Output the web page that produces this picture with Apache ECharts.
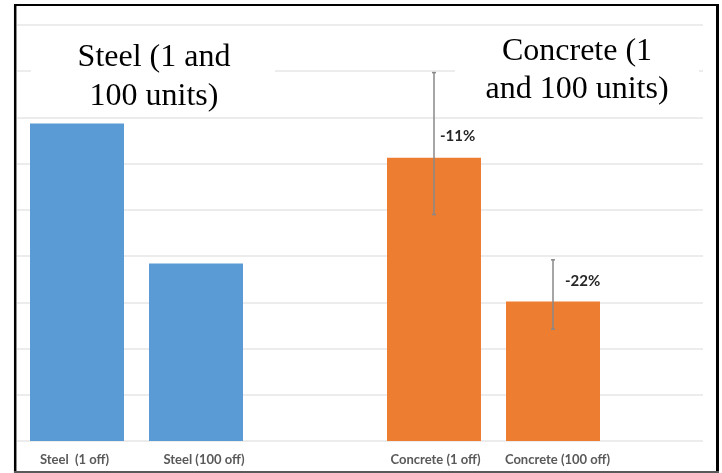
<!DOCTYPE html>
<html>
<head>
<meta charset="utf-8">
<script src="https://cdn.jsdelivr.net/npm/echarts@6/dist/echarts.min.js"></script>
<style>
  html, body { margin: 0; padding: 0; background: #ffffff; }
  #chart { width: 722px; height: 473px; }
</style>
</head>
<body>
<div id="chart"></div>
<script>
// Unit cost comparison: one-off vs 100-off builds
const categories = ['Steel  (1 off)', 'Steel (100 off)', '', 'Concrete (1 off)', 'Concrete (100 off)'];
const steelValues = [6.87, 3.84, null, null, null];
const concreteValues = [null, null, null, 6.13, 3.02];
// error range (low, high) for the concrete builds
const errorLow = [null, null, null, 4.90, 2.42];
const errorHigh = [null, null, null, 7.97, 3.92];
const changeLabels = [null, null, null, '-11%', '-22%'];
const groupTitles = ['Steel (1 and\n100 units)', 'Concrete (1\nand 100 units)'];
const yTicks = [0, 9, 1]; // min, max, interval

const chart = echarts.init(document.getElementById('chart'), null, { renderer: 'canvas' });

const labelFont = { fontFamily: 'Lato', fontWeight: 'bold' };
// small horizontal nudges of the category labels [top, right, bottom, left]
const labelPadding = [[0, 5, 0, 0], [0, 0, 0, 16], [0, 0, 0, 0], [0, 0, 0, 3], [0, 0, 0, 9]];

function barData(values) {
  return values.map((v, i) => {
    if (v == null) return null;
    const item = { value: v };
    if (changeLabels[i]) {
      item.label = {
        show: true,
        formatter: changeLabels[i],
        position: i === 3 ? [53, -22] : [59, -20],
        align: 'left',
        verticalAlign: 'middle',
        fontSize: 15,
        color: '#262626',
        ...labelFont
      };
    }
    return item;
  });
}

const errorData = [];
errorLow.forEach((lo, i) => {
  if (lo != null) errorData.push([i, lo, errorHigh[i]]);
});

const option = {
  animation: false,
  backgroundColor: '#ffffff',
  grid: [
    { left: 17.5, right: 109.5, top: 25, bottom: 32 },
    { left: 17, right: 19, top: 25, bottom: 32 }
  ],
  xAxis: [
    {
      type: 'category',
      gridIndex: 0,
      data: categories.map((c, i) => ({ value: c, textStyle: { padding: labelPadding[i] } })),
      axisLine: { show: false },
      axisTick: { show: false },
      axisLabel: {
        interval: 0,
        margin: 12,
        fontSize: 13,
        color: '#595959',
        ...labelFont
      }
    },
    { type: 'value', gridIndex: 1, show: false, min: 0, max: 1 }
  ],
  yAxis: [
    {
      type: 'value', gridIndex: 0,
      min: yTicks[0], max: yTicks[1], interval: yTicks[2],
      axisLine: { show: false }, axisTick: { show: false }, axisLabel: { show: false },
      splitLine: { show: false }
    },
    {
      type: 'value', gridIndex: 1,
      min: yTicks[0], max: yTicks[1], interval: yTicks[2],
      axisLine: { show: false }, axisTick: { show: false }, axisLabel: { show: false },
      splitLine: { show: true, lineStyle: { color: '#e6e6e6', width: 1.5 } }
    }
  ],
  series: [
    {
      name: 'Steel', type: 'bar', xAxisIndex: 0, yAxisIndex: 0,
      stack: 'all', barWidth: 94,
      itemStyle: { color: '#5b9bd5' },
      data: barData(steelValues)
    },
    {
      name: 'Concrete', type: 'bar', xAxisIndex: 0, yAxisIndex: 0,
      stack: 'all', barWidth: 94,
      itemStyle: { color: '#ed7d31' },
      data: barData(concreteValues)
    },
    {
      name: 'Range', type: 'custom', xAxisIndex: 0, yAxisIndex: 0,
      z: 5,
      encode: { x: 0, y: [1, 2] },
      data: errorData,
      renderItem: function (params, api) {
        const x = api.value(0);
        const lo = api.coord([x, api.value(1)]);
        const hi = api.coord([x, api.value(2)]);
        const cap = 2;
        const style = { stroke: '#888888', lineWidth: 1.5 };
        return {
          type: 'group',
          children: [
            { type: 'line', shape: { x1: lo[0], y1: lo[1], x2: hi[0], y2: hi[1] }, style },
            { type: 'line', shape: { x1: hi[0] - cap, y1: hi[1], x2: hi[0] + cap, y2: hi[1] }, style },
            { type: 'line', shape: { x1: lo[0] - cap, y1: lo[1], x2: lo[0] + cap, y2: lo[1] }, style }
          ]
        };
      }
    }
  ],
  graphic: [
    // text boxes for the two group titles
    { type: 'rect', z: 1, shape: { x: 31, y: 27, width: 244, height: 88 }, style: { fill: '#ffffff' } },
    { type: 'rect', z: 1, shape: { x: 455, y: 27, width: 244, height: 88 }, style: { fill: '#ffffff' } },
    {
      type: 'text', z: 3, x: 154, y: 38.5,
      style: {
        text: groupTitles[0], align: 'center', verticalAlign: 'top',
        fontFamily: 'Liberation Serif', fontSize: 32, lineHeight: 38.5, fill: '#000000'
      }
    },
    {
      type: 'text', z: 3, x: 577, y: 33,
      style: {
        text: groupTitles[1], align: 'center', verticalAlign: 'top',
        fontFamily: 'Liberation Serif', fontSize: 32, lineHeight: 37.5, fill: '#000000'
      }
    },
    // outer frame
    { type: 'line', z: 10, shape: { x1: 15.2, y1: 4, x2: 15.2, y2: 473 }, style: { stroke: '#000000', lineWidth: 2.5 } },
    { type: 'line', z: 10, shape: { x1: 14, y1: 5, x2: 719, y2: 5 }, style: { stroke: '#000000', lineWidth: 2 } },
    { type: 'line', z: 10, shape: { x1: 717.5, y1: 4, x2: 717.5, y2: 473 }, style: { stroke: '#000000', lineWidth: 3 } },
    { type: 'line', z: 10, shape: { x1: 14, y1: 472, x2: 719, y2: 472 }, style: { stroke: '#5a5a5a', lineWidth: 2 } }
  ]
};

chart.setOption(option);
</script>
</body>
</html>
